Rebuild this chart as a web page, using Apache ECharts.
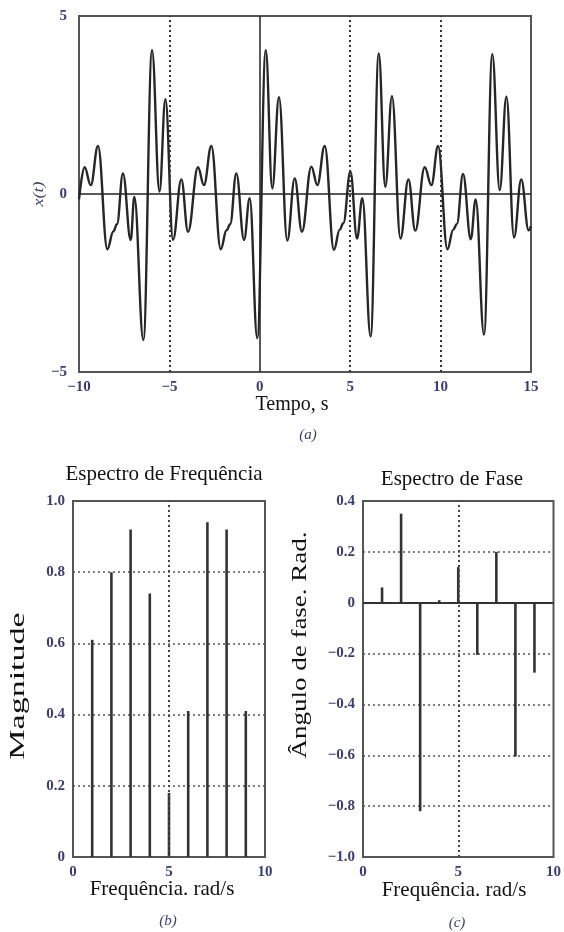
<!DOCTYPE html>
<html><head><meta charset="utf-8">
<script src="https://cdn.jsdelivr.net/npm/echarts@6/dist/echarts.min.js"></script>
<style>html,body{margin:0;padding:0;background:#fff}#c{width:564px;height:932px}</style>
</head><body><div id="c"></div>
<script>
// ---- data ----
// x(t): local extrema / shoulders  [t (s), x(t)]
const timeSignal = [
  [-10.0, -0.15], [-9.69, 0.75], [-9.35, 0.25], [-8.95, 1.35], [-8.43, -1.55],
  [-8.10, -1.05], [-7.90, -0.85], [-7.57, 0.58], [-7.14, -1.29], [-6.94, -0.08],
  [-6.44, -4.10], [-5.96, 4.04], [-5.55, 0.07], [-5.22, 2.66], [-4.80, -1.29],
  [-4.34, 0.41], [-3.97, -1.06], [-3.42, 0.75], [-3.09, 0.25], [-2.68, 1.35],
  [-2.16, -1.55], [-1.84, -1.02], [-1.64, -0.85], [-1.30, 0.58], [-0.87, -1.29],
  [-0.56, -0.12], [-0.14, -4.05], [0.33, 4.04], [0.69, 0.16], [1.06, 2.72],
  [1.52, -1.31], [1.93, 0.44], [2.33, -1.06], [2.85, 0.77], [3.18, 0.25],
  [3.59, 1.35], [4.10, -1.57], [4.42, -1.0], [4.62, -0.82], [5.01, 0.63],
  [5.38, -1.25], [5.67, -0.12], [6.13, -4.00], [6.58, 3.95], [6.94, 0.20],
  [7.31, 2.75], [7.78, -1.25], [8.22, 0.41], [8.60, -1.03], [9.12, 0.75],
  [9.49, 0.25], [9.86, 1.35], [10.38, -1.55], [10.70, -1.0], [10.90, -0.84],
  [11.24, 0.56], [11.67, -1.27], [11.94, -0.15], [12.40, -3.95], [12.86, 3.93],
  [13.27, 0.11], [13.64, 2.73], [14.06, -1.22], [14.46, 0.41], [14.87, -1.02],
  [15.0, -0.90]
];
const timeTicks = [-10, -5, 0, 5, 10, 15];
const timeRefLinesDotted = [-5, 5, 10];
const freqs = [1, 2, 3, 4, 5, 6, 7, 8, 9];
const magnitudes = [0.61, 0.80, 0.92, 0.74, 0.18, 0.41, 0.94, 0.92, 0.41];
const phases = [0.06, 0.35, -0.82, 0.01, 0.14, -0.205, 0.20, -0.605, -0.275];

// ---- styling ----
const SERIF = "'Liberation Serif', 'DejaVu Serif', serif";
const TICK_COLOR = '#3c3c78';
const minus = s => String(s).replace('-', '\u2212');
const tickLabel = (fmt) => ({
  color: TICK_COLOR, fontFamily: SERIF, fontWeight: 'bold', fontSize: 15, formatter: fmt
});
const noTick = { show: false };
const dotted = { type: [2, 3], width: 1.6, color: '#555' };

const chart = echarts.init(document.getElementById('c'), null, { renderer: 'canvas' });

const option = {
  backgroundColor: '#fff',
  animation: false,
  grid: [
    { left: 79, top: 16, width: 452, height: 356, show: true, borderColor: '#555', borderWidth: 2, backgroundColor: 'transparent' },
    { left: 73, top: 501, width: 192, height: 356, show: true, borderColor: '#555', borderWidth: 2, backgroundColor: 'transparent' },
    { left: 363, top: 501, width: 193, height: 356, show: true, borderColor: '#555', borderWidth: 2, backgroundColor: 'transparent' }
  ],
  xAxis: [
    { gridIndex: 0, type: 'value', min: timeTicks[0], max: timeTicks[timeTicks.length - 1], interval: 5,
      axisLine: { show: false }, axisTick: noTick, splitLine: { show: false },
      axisLabel: Object.assign(tickLabel(v => minus(v)), { margin: 8 }) },
    { gridIndex: 1, type: 'value', min: 0, max: 10, interval: 5,
      axisLine: { show: false }, axisTick: noTick, splitLine: { show: false },
      axisLabel: Object.assign(tickLabel(v => String(v)), { margin: 8 }) },
    { gridIndex: 2, type: 'value', min: 0, max: 10, interval: 5,
      axisLine: { show: false }, axisTick: noTick, splitLine: { show: false },
      axisLabel: Object.assign(tickLabel(v => String(v)), { margin: 8 }) }
  ],
  yAxis: [
    { gridIndex: 0, type: 'value', min: -5, max: 5, interval: 5,
      axisLine: { show: false }, axisTick: noTick, splitLine: { show: false },
      axisLabel: Object.assign(tickLabel(v => minus(v)), { margin: 12 }) },
    { gridIndex: 1, type: 'value', min: 0, max: 1, interval: 0.2,
      axisLine: { show: false }, axisTick: noTick,
      splitLine: { show: true, lineStyle: dotted },
      axisLabel: Object.assign(tickLabel(v => v === 0 ? '0' : v.toFixed(1)), { margin: 8 }) },
    { gridIndex: 2, type: 'value', min: -1, max: 0.4, interval: 0.2,
      axisLine: { show: false }, axisTick: noTick,
      splitLine: { show: true, lineStyle: dotted },
      axisLabel: Object.assign(tickLabel(v => Math.abs(v) < 1e-9 ? '0' : minus(v.toFixed(1))), { margin: 8 }) }
  ],
  series: [
    {
      type: 'line', xAxisIndex: 0, yAxisIndex: 0,
      data: timeSignal, showSymbol: false, smooth: 0.4, smoothMonotone: 'x',
      lineStyle: { color: '#262626', width: 2.4 },
      markLine: {
        silent: true, symbol: 'none', label: { show: false },
        data: [
          ...timeRefLinesDotted.map(v => ({ xAxis: v, lineStyle: { type: [2, 3], width: 2, color: '#333' } })),
          { xAxis: 0, lineStyle: { type: 'solid', width: 1.5, color: '#222' } },
          { yAxis: 0, lineStyle: { type: 'solid', width: 1.5, color: '#222' } }
        ]
      },
      z: 3
    },
    {
      type: 'bar', xAxisIndex: 1, yAxisIndex: 1,
      data: freqs.map((f, i) => [f, magnitudes[i]]),
      barWidth: 2.6, itemStyle: { color: '#333' },
      markLine: {
        silent: true, symbol: 'none', label: { show: false },
        data: [{ xAxis: 5, lineStyle: { type: [2, 3], width: 2, color: '#444' } }]
      }
    },
    {
      type: 'bar', xAxisIndex: 2, yAxisIndex: 2,
      data: freqs.map((f, i) => [f, phases[i]]),
      barWidth: 2.6, itemStyle: { color: '#333' },
      markLine: {
        silent: true, symbol: 'none', label: { show: false },
        data: [
          { xAxis: 5, lineStyle: { type: [2, 3], width: 2, color: '#444' } },
          { yAxis: 0, lineStyle: { type: 'solid', width: 2, color: '#333' } }
        ]
      }
    }
  ],
  graphic: [
    { type: 'text', x: 39, y: 194, rotation: Math.PI / 2, scaleX: 1.2,
      style: { text: 'x(t)', font: 'italic 15px ' + SERIF, fill: TICK_COLOR, align: 'center', verticalAlign: 'middle' } },
    { type: 'text', x: 292, y: 405,
      style: { text: 'Tempo, s', font: '20px ' + SERIF, fill: '#111', align: 'center', verticalAlign: 'middle' } },
    { type: 'text', x: 308, y: 435,
      style: { text: '(a)', font: 'italic 15px ' + SERIF, fill: TICK_COLOR, align: 'center', verticalAlign: 'middle' } },
    { type: 'text', x: 164, y: 474,
      style: { text: 'Espectro de Frequência', font: '21px ' + SERIF, fill: '#111', align: 'center', verticalAlign: 'middle' } },
    { type: 'text', x: 19, y: 686, rotation: Math.PI / 2, scaleX: 1.7,
      style: { text: 'Magnitude', font: '20px ' + SERIF, fill: '#111', align: 'center', verticalAlign: 'middle' } },
    { type: 'text', x: 162, y: 889,
      style: { text: 'Frequência. rad/s', font: '21px ' + SERIF, fill: '#111', align: 'center', verticalAlign: 'middle' } },
    { type: 'text', x: 168, y: 921,
      style: { text: '(b)', font: 'italic 15px ' + SERIF, fill: TICK_COLOR, align: 'center', verticalAlign: 'middle' } },
    { type: 'text', x: 452, y: 479,
      style: { text: 'Espectro de Fase', font: '21px ' + SERIF, fill: '#111', align: 'center', verticalAlign: 'middle' } },
    { type: 'text', x: 301, y: 645, rotation: Math.PI / 2, scaleX: 1.35,
      style: { text: 'Ângulo de fase. Rad.', font: '20px ' + SERIF, fill: '#111', align: 'center', verticalAlign: 'middle' } },
    { type: 'text', x: 454, y: 890,
      style: { text: 'Frequência. rad/s', font: '21px ' + SERIF, fill: '#111', align: 'center', verticalAlign: 'middle' } },
    { type: 'text', x: 457, y: 923,
      style: { text: '(c)', font: 'italic 15px ' + SERIF, fill: TICK_COLOR, align: 'center', verticalAlign: 'middle' } }
  ]
};
chart.setOption(option);
</script>
</body></html>
